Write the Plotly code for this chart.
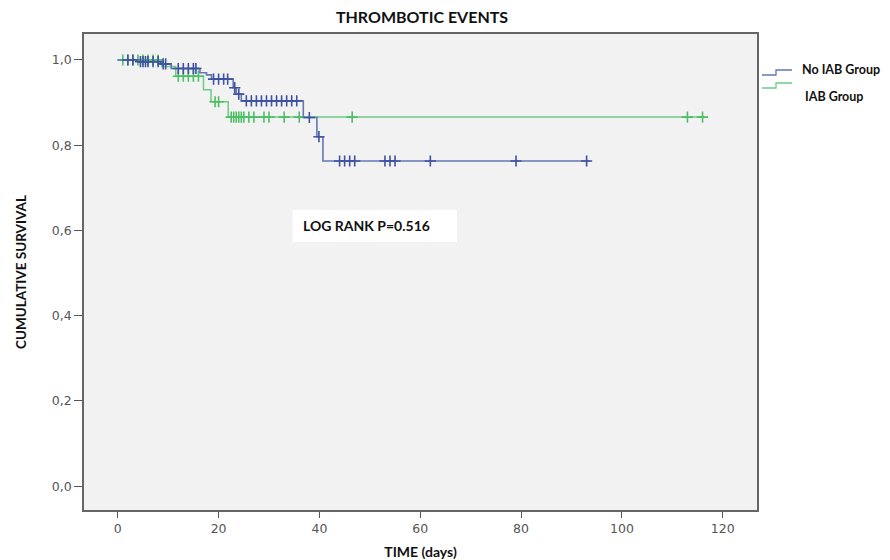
import numpy as np
import plotly.graph_objects as go

# ---------------- data ----------------
# No IAB Group: Kaplan-Meier step function
noiab_time = [0, 4.0, 8.5, 10.6, 16.3, 17.6, 18.6, 22.9, 23.5, 24.5, 36.8, 39.5, 40.7, 93.7]
noiab_surv = [1.0, 0.996, 0.991, 0.980, 0.970, 0.965, 0.955, 0.935, 0.920, 0.904, 0.865, 0.820, 0.763, 0.763]
noiab_censor = [2, 3, 4.5, 5, 5.5, 6, 7, 8, 9, 9.5, 12, 13, 14, 15, 15.5, 19, 20, 21, 21.8,
                23.2, 24, 25.5, 26.5, 27.5, 28.5, 29.5, 30.5, 31.5, 32.5, 33.5, 34.5, 35.5,
                38, 39.9, 44, 45, 46, 47, 53, 54, 55, 62, 79, 93]

# IAB Group
iab_time = [0, 8.7, 11.5, 17.0, 18.5, 21.9, 116.5]
iab_surv = [1.0, 0.985, 0.962, 0.930, 0.902, 0.866, 0.866]
iab_censor = [1, 2, 3, 4, 5, 6, 7, 8, 12, 13, 14, 15, 16, 19.3, 20, 22.5, 23, 23.5, 24,
              24.5, 25, 26, 27, 29, 30, 33, 36, 46.5, 113, 116]

x_ticks = [0, 20, 40, 60, 80, 100, 120]
y_ticks = [0.0, 0.2, 0.4, 0.6, 0.8, 1.0]
y_tick_text = ["0,0", "0,2", "0,4", "0,6", "0,8", "1,0"]

title_text = "THROMBOTIC EVENTS"
annot_text = "LOG RANK P=0.516"
series_names = ["No IAB Group", "IAB Group"]

BLUE = "#6377b5"
BLUE_M = "#3f52a0"
GREEN = "#6ccb85"
GREEN_M = "#4cbf66"


def surv_at(times, surv, t):
    idx = np.searchsorted(np.asarray(times), np.asarray(t), side="right") - 1
    return list(np.asarray(surv)[idx])


# page offset (body margin) and figure size
OFF = 8
W, H = 882, 552
PL, PR, PT, PB = 84, 757, 34, 510   # plot area in page pixels


def px(x):   # page x -> paper (plot-area) fraction
    return (x - PL) / (PR - PL)


def py(y):   # page y -> paper fraction
    return (PB - y) / (PB - PT)


fig = go.Figure()

fig.add_trace(go.Scatter(x=iab_time, y=iab_surv, mode="lines", line_shape="hv",
                         line=dict(color=GREEN, width=1.5), name=series_names[1],
                         showlegend=False))
fig.add_trace(go.Scatter(x=iab_censor, y=surv_at(iab_time, iab_surv, iab_censor),
                         mode="markers",
                         marker=dict(symbol="cross-thin", size=8,
                                     line=dict(color=GREEN_M, width=1.6)),
                         showlegend=False))
fig.add_trace(go.Scatter(x=noiab_time, y=noiab_surv, mode="lines", line_shape="hv",
                         line=dict(color=BLUE, width=1.6), name=series_names[0],
                         showlegend=False))
fig.add_trace(go.Scatter(x=noiab_censor, y=surv_at(noiab_time, noiab_surv, noiab_censor),
                         mode="markers",
                         marker=dict(symbol="cross-thin", size=8,
                                     line=dict(color=BLUE_M, width=1.6)),
                         showlegend=False))

# log-rank annotation box
fig.add_shape(type="rect", xref="x", yref="y", x0=34.7, x1=67.3, y0=0.573, y1=0.648,
              fillcolor="white", line=dict(width=0), layer="below")
fig.add_annotation(x=36.4, y=0.611, xref="x", yref="y", text="<b>%s</b>" % annot_text,
                   showarrow=False, xanchor="left", yanchor="middle",
                   font=dict(family="Lato", size=14, color="#111"))

# custom step-style legend
fig.add_shape(type="path", xref="paper", yref="paper",
              path="M %f,%f L %f,%f L %f,%f L %f,%f" % (px(762), py(75), px(776), py(75),
                                                      px(776), py(70), px(792), py(70)),
              line=dict(color=BLUE, width=1.3))
fig.add_shape(type="path", xref="paper", yref="paper",
              path="M %f,%f L %f,%f L %f,%f L %f,%f" % (px(762), py(88), px(776), py(88),
                                                      px(776), py(83), px(792), py(83)),
              line=dict(color=GREEN, width=1.3))
fig.add_annotation(x=px(800), y=py(70), xref="paper", yref="paper",
                   text="<b>%s</b>" % series_names[0], showarrow=False,
                   xanchor="left", yanchor="middle",
                   font=dict(family="Lato", size=12.5, color="#111"))
fig.add_annotation(x=px(803), y=py(96), xref="paper", yref="paper",
                   text="<b>%s</b>" % series_names[1], showarrow=False,
                   xanchor="left", yanchor="middle",
                   font=dict(family="Lato", size=12.5, color="#111"))

fig.update_layout(
    width=W, height=H,
    margin=dict(l=PL - OFF, r=W - (PR - OFF), t=PT - OFF, b=H - (PB - OFF)),
    paper_bgcolor="white", plot_bgcolor="#f2f2f2",
    title=dict(text="<b>%s</b>" % title_text, x=(422 - OFF) / W, xanchor="center",
               y=1 - (17 - OFF) / H, yanchor="middle",
               font=dict(family="Lato", size=16, color="#111")),
    showlegend=False,
)
fig.update_xaxes(range=[-6.7, 126.8], tickvals=x_ticks, ticks="outside", ticklen=6,
                 tickwidth=1.3, tickcolor="#555", showgrid=False, zeroline=False,
                 showline=True, linecolor="#666", linewidth=1.6, mirror=True,
                 automargin=False,
                 tickfont=dict(family="DejaVu Sans", size=12.5, color="#555"),
                 title=dict(text="<b>TIME (days)</b>", standoff=12,
                            font=dict(family="Lato", size=14, color="#111")))
fig.update_yaxes(range=[-0.056, 1.061], tickvals=y_ticks, ticktext=y_tick_text,
                 ticks="outside", ticklen=8, tickwidth=1.3, tickcolor="#555",
                 showgrid=False, zeroline=False,
                 showline=True, linecolor="#666", linewidth=1.6, mirror=True,
                 automargin=False,
                 tickfont=dict(family="DejaVu Sans", size=12.5, color="#555"),
                 title=dict(text="<b>CUMULATIVE SURVIVAL</b>", standoff=22,
                            font=dict(family="Lato", size=13.5, color="#111")))

fig.write_html("out.html")
